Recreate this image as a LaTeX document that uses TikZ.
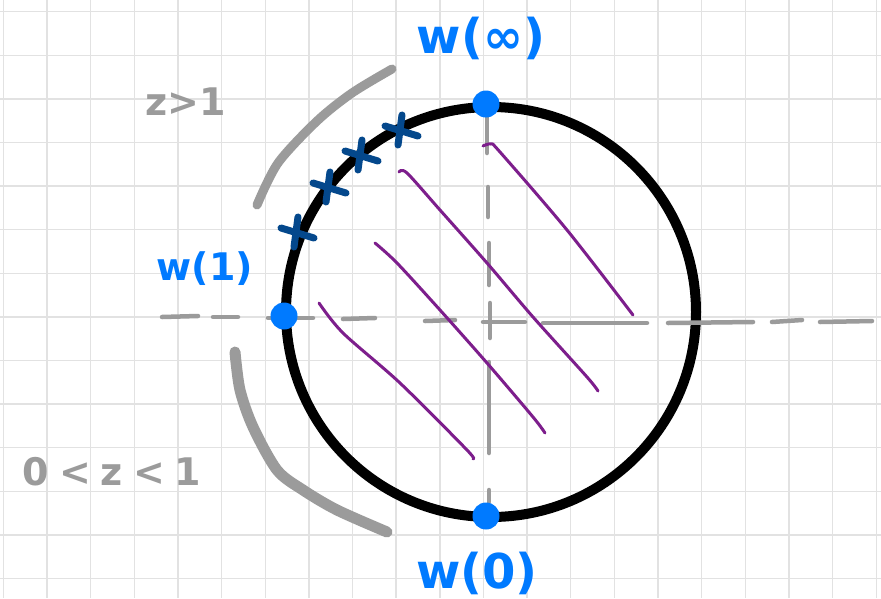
\documentclass[tikz,border=0pt]{standalone}
\usepackage{fontspec}
\setmainfont{DejaVu Sans}
\usepackage{tikz}
\usetikzlibrary{positioning,calc}

\definecolor{inkblue}{RGB}{0,122,255}
\definecolor{crossblue}{RGB}{4,72,140}
\definecolor{hatchpurple}{RGB}{125,30,140}
\definecolor{pencilgray}{RGB}{155,155,155}
\definecolor{paperline}{RGB}{226,226,226}

\begin{document}
\begin{tikzpicture}[x=1pt,y=-1pt,
    gridline/.style={paperline,line width=1.4pt},
    axisline/.style={pencilgray,line width=4.5pt,line cap=round},
    hatchline/.style={hatchpurple,line width=3pt,line cap=round,line join=round},
    pencilarc/.style={pencilgray,line width=9pt,line cap=round,line join=round},
    crossmark/.style={crossblue,line width=7pt,line cap=round},
    blob/.style={circle,fill=inkblue,inner sep=0pt,minimum size=27pt},
    bluelabel/.style={inkblue,font=\bfseries\fontsize{48}{48}\selectfont},
    graylabel/.style={pencilgray,font=\bfseries\fontsize{38}{38}\selectfont}]

    \useasboundingbox[fill=white] (0,0) rectangle (881,598);
    % squared paper
    \foreach \i in {0,...,20} \draw[gridline] (3.3+43.65*\i,0) -- (3.3+43.65*\i,598);
    \foreach \j in {0,...,13} \draw[gridline] (0,11.7+43.6*\j) -- (881,11.7+43.6*\j);

    % unit circle
    \coordinate (o) at (491,312);
    \draw[line width=10pt] (o) circle[radius=205pt];

    % axes (hand dashed)
    \foreach \xa/\ya/\xb/\yb in {162/317/198/316, 213/317/238/317, 268/318/313/318,
        343/319/375/318, 425/321/455/320, 483/322/525/322, 543/323/647/323,
        668/323/753/322, 772/322/802/320, 820/322/872/321}
      \draw[axisline] (\xa,\ya) -- (\xb,\yb);
    \foreach \xa/\ya/\yb in {487/115/153, 488/187/217, 489/243/285, 490/303/338,
        489/362/453, 489/490/502}
      \draw[axisline] (\xa,\ya) -- (\xa,\yb);

    % pencil arcs outside
    \draw[pencilarc] plot[smooth] coordinates {(257,205) (278,163) (317,121) (352,93) (392,69)};
    \draw[pencilarc,line width=11pt] plot[smooth] coordinates {(235,352) (240,390) (253,427) (277,470) (303,490) (337,510) (387,532)};

    % hatching
    \draw[hatchline] plot[smooth] coordinates {(483,146) (491,144) (500,152) (567,230) (633,315)};
    \draw[hatchline] plot[smooth] coordinates {(399,172) (407,173) (440,210) (487,263) (533,317) (587,377) (598,391)};
    \draw[hatchline] plot[smooth] coordinates {(375,243) (397,263) (440,310) (487,363) (533,417) (545,433)};
    \draw[hatchline] plot[smooth] coordinates {(319,303) (343,333) (400,383) (467,450) (473,459)};

    % crosses
    \foreach \cx/\cy in {296/232, 328/187, 360/155, 400/130} {
      \draw[crossmark] (\cx-15,\cy-4) -- (\cx+18,\cy+6);
      \draw[crossmark] (\cx+2,\cy-15) -- (\cx-2,\cy+15);
    }

    % marked points
    \node[blob] (winf) at (486,104) {};
    \node[blob] (wone) at (284,316) {};
    \node[blob] (wzero) at (486,516) {};

    \node[bluelabel] (winflabel) at (481,38) {w(∞)};
    \node[bluelabel,font=\bfseries\fontsize{38}{38}\selectfont] (wonelabel) at (205,269) {w(1)};
    \node[bluelabel] (wzerolabel) at (477,573) {w(0)};
    \node[graylabel] (bigz) at (186,102) {z>1};
    \node[graylabel] (smallz) at (112,472) {0\hspace{10pt}<\hspace{10pt}z\hspace{10pt}<\hspace{10pt}1};
\end{tikzpicture}
\end{document}
